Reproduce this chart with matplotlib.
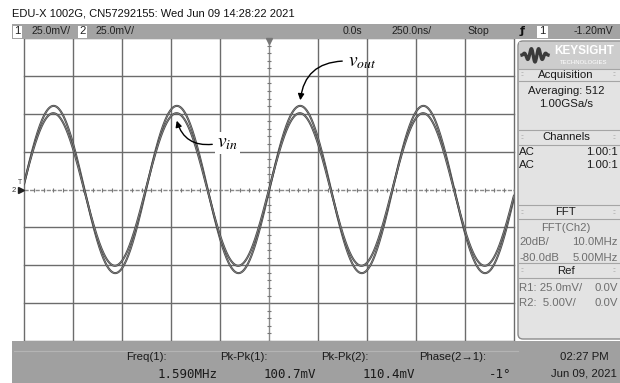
import matplotlib
matplotlib.use('Agg')
import matplotlib.pyplot as plt
import numpy as np
from matplotlib.patches import Rectangle, FancyBboxPatch, FancyArrowPatch
from matplotlib import font_manager

freq_mhz = 1.590      # Freq(1)
vpp_in = 100.7        # mV, channel 1 = v_in
vpp_out = 110.4       # mV, channel 2 = v_out
phase_deg = -1.0      # Phase(2->1)
volts_div = 25.0      # mV/div
time_div = 250.0      # ns/div

meas_labels = ['Freq(1):', 'Pk-Pk(1):', 'Pk-Pk(2):', 'Phase(2→1):']
meas_values = ['1.590MHz', '100.7mV', '110.4mV', '-1°']

avail = {f.name for f in font_manager.fontManager.ttflist}
NARROW = 'Liberation Sans Narrow' if 'Liberation Sans Narrow' in avail else 'Liberation Sans'
plt.rcParams['font.family'] = [NARROW, 'DejaVu Sans']
plt.rcParams['mathtext.fontset'] = 'stix'

W, H = 620, 383
fig = plt.figure(figsize=(W / 100, H / 100), dpi=100)
fig.patch.set_facecolor('white')

# ---- scope graticule, in data units (ns, mV) ----
gx0, gx1, gy0, gy1 = 24, 514, 38, 341
ax = fig.add_axes([gx0 / W, 1 - gy1 / H, (gx1 - gx0) / W, (gy1 - gy0) / H], zorder=1)
ax.set_xlim(-5 * time_div, 5 * time_div)
ax.set_ylim(-4 * volts_div, 4 * volts_div)
ax.axis('off')
gc = '#6c6c6c'
for k in range(-5, 6):
    if k != 0:
        ax.axvline(k * time_div, color=gc, lw=1.0, clip_on=False)
for k in range(-4, 5):
    if k != 0:
        ax.axhline(k * volts_div, color=gc, lw=1.0, clip_on=False)
ax.axvline(0, color='#8a8a8a', lw=1.0)
ax.axhline(0, color='#8a8a8a', lw=1.0, ls=(0, (3, 1)))
xt = np.arange(-5 * time_div, 5 * time_div + 1, time_div / 5)
ax.plot(xt, np.zeros_like(xt), '|', ms=3.5, color='#777777', mew=0.8)
yt = np.arange(-4 * volts_div, 4 * volts_div + 1, volts_div / 5)
ax.plot(np.zeros_like(yt), yt, '_', ms=3.5, color='#777777', mew=0.8)

t = np.linspace(-5 * time_div, 5 * time_div, 3000)
w = 2 * np.pi * freq_mhz * 1e-3
v_in = vpp_in / 2 * np.sin(w * t)
v_out = vpp_out / 2 * np.sin(w * t + np.radians(phase_deg))
for v in (v_out, v_in):
    ax.plot(t, v, color='#474747', lw=1.5, solid_capstyle='round')
    ax.plot(t, v, color='#9c9c9c', lw=0.4)

# ---- screen chrome, in pixel units ----
ov = fig.add_axes([0, 0, 1, 1], zorder=5)
ov.set_xlim(0, W)
ov.set_ylim(H, 0)
ov.axis('off')
ov.patch.set_alpha(0)

ov.text(12, 13, 'EDU-X 1002G, CN57292155: Wed Jun 09 14:28:22 2021',
        fontsize=8, va='center', ha='left', color='#111111')

# header bar
hf = 7.6
ov.add_patch(Rectangle((12, 24), W - 12, 15, fc='#a3a3a3', ec='none'))
def box(x, wd, s):
    ov.add_patch(Rectangle((x, 25.5), wd, 12, fc='white', ec='none'))
    ov.text(x + wd / 2, 31.5, s, fontsize=hf + 0.5, ha='center', va='center', color='#222222')
box(13, 9, '1')
ov.text(32, 31.5, '25.0mV/', fontsize=hf, va='center', ha='left', color='#222222')
box(78, 9, '2')
ov.text(96, 31.5, '25.0mV/', fontsize=hf, va='center', ha='left', color='#222222')
ov.text(352, 31.5, '0.0s', fontsize=hf, va='center', ha='center', color='#222222')
ov.text(412, 31.5, '250.0ns/', fontsize=hf, va='center', ha='center', color='#222222')
ov.text(478, 31.5, 'Stop', fontsize=hf, va='center', ha='center', color='#222222')
ov.text(522, 31.5, 'ƒ', fontsize=8, va='center', ha='center', color='#111111',
        fontweight='bold', family=['DejaVu Sans'])
box(537, 11, '1')
ov.text(613, 31.5, '-1.20mV', fontsize=hf, va='center', ha='right', color='#222222')

# trigger / ground markers
ov.plot([269], [41], marker='v', ms=4, color='#777777')
ov.text(14, 191, '2', fontsize=5.5, ha='center', va='center', color='#333333')
ov.plot([20.5], [189.5], marker='>', ms=4.5, color='#222222')
ov.text(20, 183, 'T', fontsize=5, ha='center', va='center', color='#444444')

# right side panel
ov.add_patch(FancyBboxPatch((518, 41), 110, 298, boxstyle='round,pad=0,rounding_size=5',
                            fc='#e3e3e3', ec='#8a8a8a', lw=1.0))
ov.add_patch(Rectangle((519, 42), 101, 27, fc='#cdcdcd', ec='none'))
lx = np.linspace(0, 1, 200)
ov.plot(522 + 26 * lx, 55 - 7 * np.sin(2 * np.pi * 3.5 * lx) * np.sin(np.pi * lx),
        color='#3a3a3a', lw=2.4)
ov.text(584, 51, 'KEYSIGHT', fontsize=8.5, color='white', ha='center', va='center',
        fontweight='bold')
ov.text(584, 62, 'TECHNOLOGIES', fontsize=4.3, color='white', ha='center', va='center')

def section(y0, y1, title):
    ov.plot([519, 620], [y0, y0], color='#a5a5a5', lw=0.8)
    ov.plot([519, 620], [y1, y1], color='#a5a5a5', lw=0.8)
    ov.text(566, (y0 + y1) / 2, title, fontsize=8.2, ha='center', va='center', color='#1a1a1a')
    for gx in (522, 614):
        ov.text(gx, (y0 + y1) / 2, '::', fontsize=5, ha='center', va='center', color='#999999')
pf = 8.2
section(69, 81, 'Acquisition')
ov.text(566, 91, 'Averaging: 512', fontsize=pf, ha='center', va='center', color='#1a1a1a')
ov.text(566, 104, '1.00GSa/s', fontsize=pf, ha='center', va='center', color='#1a1a1a')
section(130, 145, 'Channels')
for yy in (152, 165):
    ov.text(519, yy, 'AC', fontsize=pf, ha='left', va='center', color='#1a1a1a')
    ov.text(618, yy, '1.00:1', fontsize=pf, ha='right', va='center', color='#1a1a1a')
section(205, 219, 'FFT')
gtx = '#6e6e6e'
ov.text(566, 228, 'FFT(Ch2)', fontsize=pf, ha='center', va='center', color=gtx)
ov.text(519, 242, '20dB/', fontsize=pf, ha='left', va='center', color=gtx)
ov.text(618, 242, '10.0MHz', fontsize=pf, ha='right', va='center', color=gtx)
ov.text(519, 258, '-80.0dB', fontsize=pf, ha='left', va='center', color=gtx)
ov.text(618, 258, '5.00MHz', fontsize=pf, ha='right', va='center', color=gtx)
section(263, 278, 'Ref')
ov.text(519, 288, 'R1: 25.0mV/', fontsize=pf, ha='left', va='center', color=gtx)
ov.text(618, 288, '0.0V', fontsize=pf, ha='right', va='center', color=gtx)
ov.text(519, 303, 'R2:  5.00V/', fontsize=pf, ha='left', va='center', color=gtx)
ov.text(618, 303, '0.0V', fontsize=pf, ha='right', va='center', color=gtx)

# bottom measurement bar
ov.add_patch(Rectangle((12, 341), W - 12, H - 341, fc='#a0a0a0', ec='none'))
ov.plot([14, 518], [351, 351], color='#b4b4b4', lw=0.8)
lab_x = [126, 220, 321, 419]
val_x = [218, 316, 415, 511]
for lab, val, x0, x1 in zip(meas_labels, meas_values, lab_x, val_x):
    ov.text(x0, 357, lab, fontsize=8.2, ha='left', va='center', color='#1a1a1a',
            family=[NARROW, 'DejaVu Sans'])
    ov.text(x1, 375, val, fontsize=9, ha='right', va='center', color='#1a1a1a',
            family=['DejaVu Sans Mono'])
ov.text(584, 357, '02:27 PM', fontsize=8.2, ha='center', va='center', color='#1a1a1a')
ov.text(584, 374, 'Jun 09, 2021', fontsize=8.2, ha='center', va='center', color='#1a1a1a')

# annotations
ov.text(348, 62, r'$v_{out}$', fontsize=14, ha='left', va='center', color='black')
ov.add_patch(FancyArrowPatch((345, 61), (300, 103), connectionstyle='arc3,rad=0.45',
                             arrowstyle='-|>', mutation_scale=9, color='black', lw=1.0))
ov.text(217, 143, r'$v_{in}$', fontsize=14, ha='left', va='center', color='black',
        bbox=dict(fc='white', ec='none', pad=1.5))
ov.add_patch(FancyArrowPatch((215, 144), (176, 118), connectionstyle='arc3,rad=-0.45',
                             arrowstyle='-|>', mutation_scale=9, color='black', lw=1.0))

fig.savefig('out.png', dpi=100)
